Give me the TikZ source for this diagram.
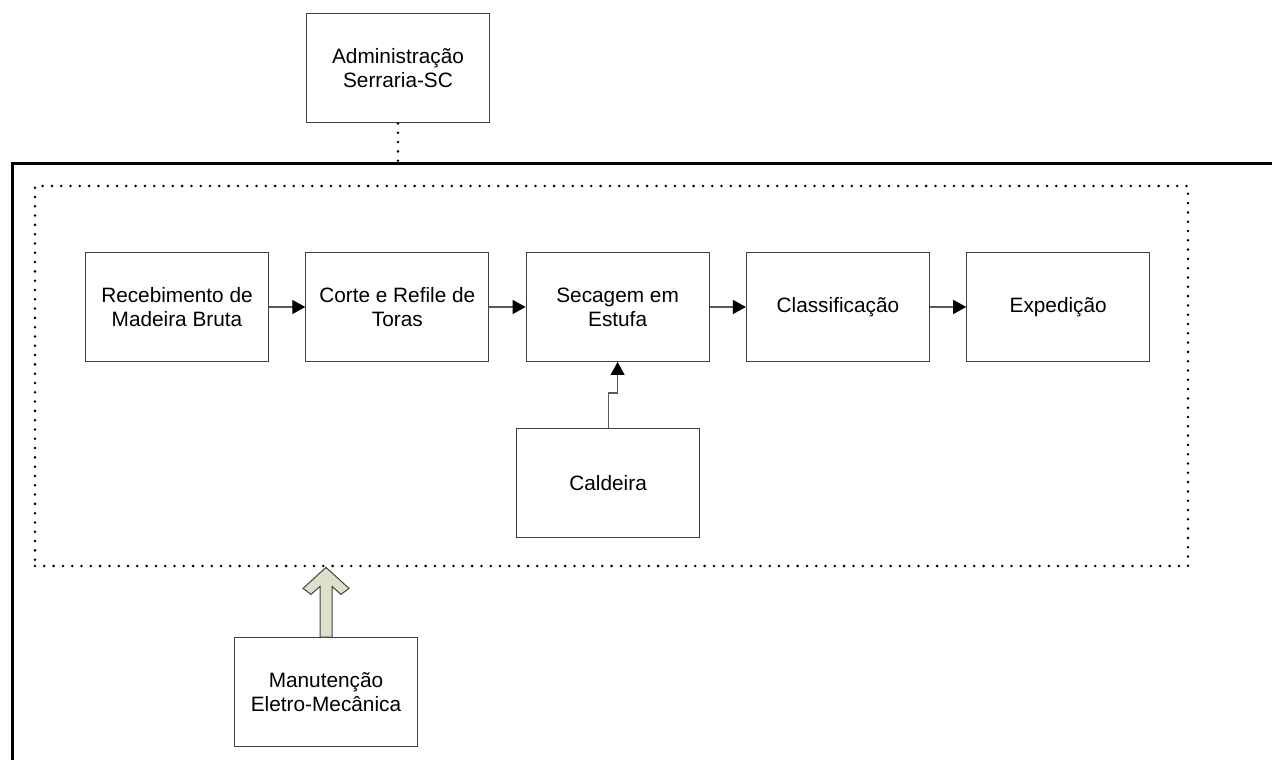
\documentclass[tikz,border=0pt]{standalone}
\usepackage{fontspec}
\setmainfont{Liberation Sans}
\usepackage{tikz}
\usetikzlibrary{arrows.meta}
\usetikzlibrary{positioning}
\usetikzlibrary{calc}
\definecolor{boxgray}{RGB}{64,64,64}
\definecolor{arrgray}{RGB}{90,90,90}
\definecolor{manfill}{RGB}{221,224,203}
\tikzset{
  proc_box/.style = {rectangle, draw=boxgray, line width=0.5pt, align=center,
    minimum width=91.5pt, minimum height=54.5pt, inner sep=0pt,
    font=\fontsize{10.4}{12}\selectfont},% caixa de processo
  proc_arr/.style = {draw=arrgray, line width=0.6pt,
    -{Triangle[length=6.5pt,width=7pt,color=black,fill=black]}},% fluxo
  dot_line/.style = {line width=1.4pt, line cap=round,
    dash pattern=on 0pt off 4.65pt},% pontilhado
  frame_line/.style = {line width=1.5pt},
  big_arr/.style = {draw=boxgray, line width=0.5pt, fill=manfill}
}
\begin{document}
\begin{tikzpicture}[x=0.5pt,y=0.5pt,node distance=18.15pt]
\useasboundingbox (0,0) rectangle (1272,760);

% moldura da empresa
\coordinate (fr_tl) at (12,596);
\coordinate (fr_r) at (1272,596);
\coordinate (fr_b) at (12,0);
\draw[frame_line] (fr_r) -- (fr_tl) -- (fr_b);

\node [rectangle, draw=black, dot_line, minimum width=576.5pt,
  minimum height=190pt] (plant) at (611.5,384) {};

% linha de producao
\node [proc_box] (rec) at (177,453) {Recebimento de\\Madeira Bruta};
\node [proc_box, right=of rec] (cor) {Corte e Refile de\\Toras};
\node [proc_box, right=of cor] (sec) {Secagem em\\Estufa};
\node [proc_box, right=of sec] (cla) {Classificação};
\node [proc_box, right=of cla] (exp) {Expedição};
\node [proc_box, below=33pt of sec, xshift=-4.75pt] (cal) {Caldeira};

\node [proc_box] (adm) at (398,691.5) {Administração\\Serraria-SC};
\node [proc_box] (man) at (326,68) {Manutenção\\Eletro-Mecânica};

\draw[proc_arr] (rec) -- (cor);
\draw[proc_arr] (cor) -- (sec);
\draw[proc_arr] (sec) -- (cla);
\draw[proc_arr] (cla) -- (exp);
\draw[proc_arr] (cal.north) -- ++(0,35) -| (sec.south);

\coordinate (adm_c) at (adm.south |- fr_tl);
\draw[dot_line] (adm.south) -- (adm_c);

% seta larga da manutencao
\coordinate (tip) at (man.north |- plant.south);
\draw[big_arr] ([xshift=-3pt]man.north) -- ($(tip)+(-3pt,-9.5pt)$)
  -- ($(tip)+(-7.5pt,-13.5pt)$) -- ($(tip)+(-11.5pt,-10.5pt)$) -- (tip)
  -- ($(tip)+(11.5pt,-10.5pt)$) -- ($(tip)+(7.5pt,-13.5pt)$)
  -- ($(tip)+(3pt,-9.5pt)$) -- ([xshift=3pt]man.north) -- cycle;
\end{tikzpicture}
\end{document}
